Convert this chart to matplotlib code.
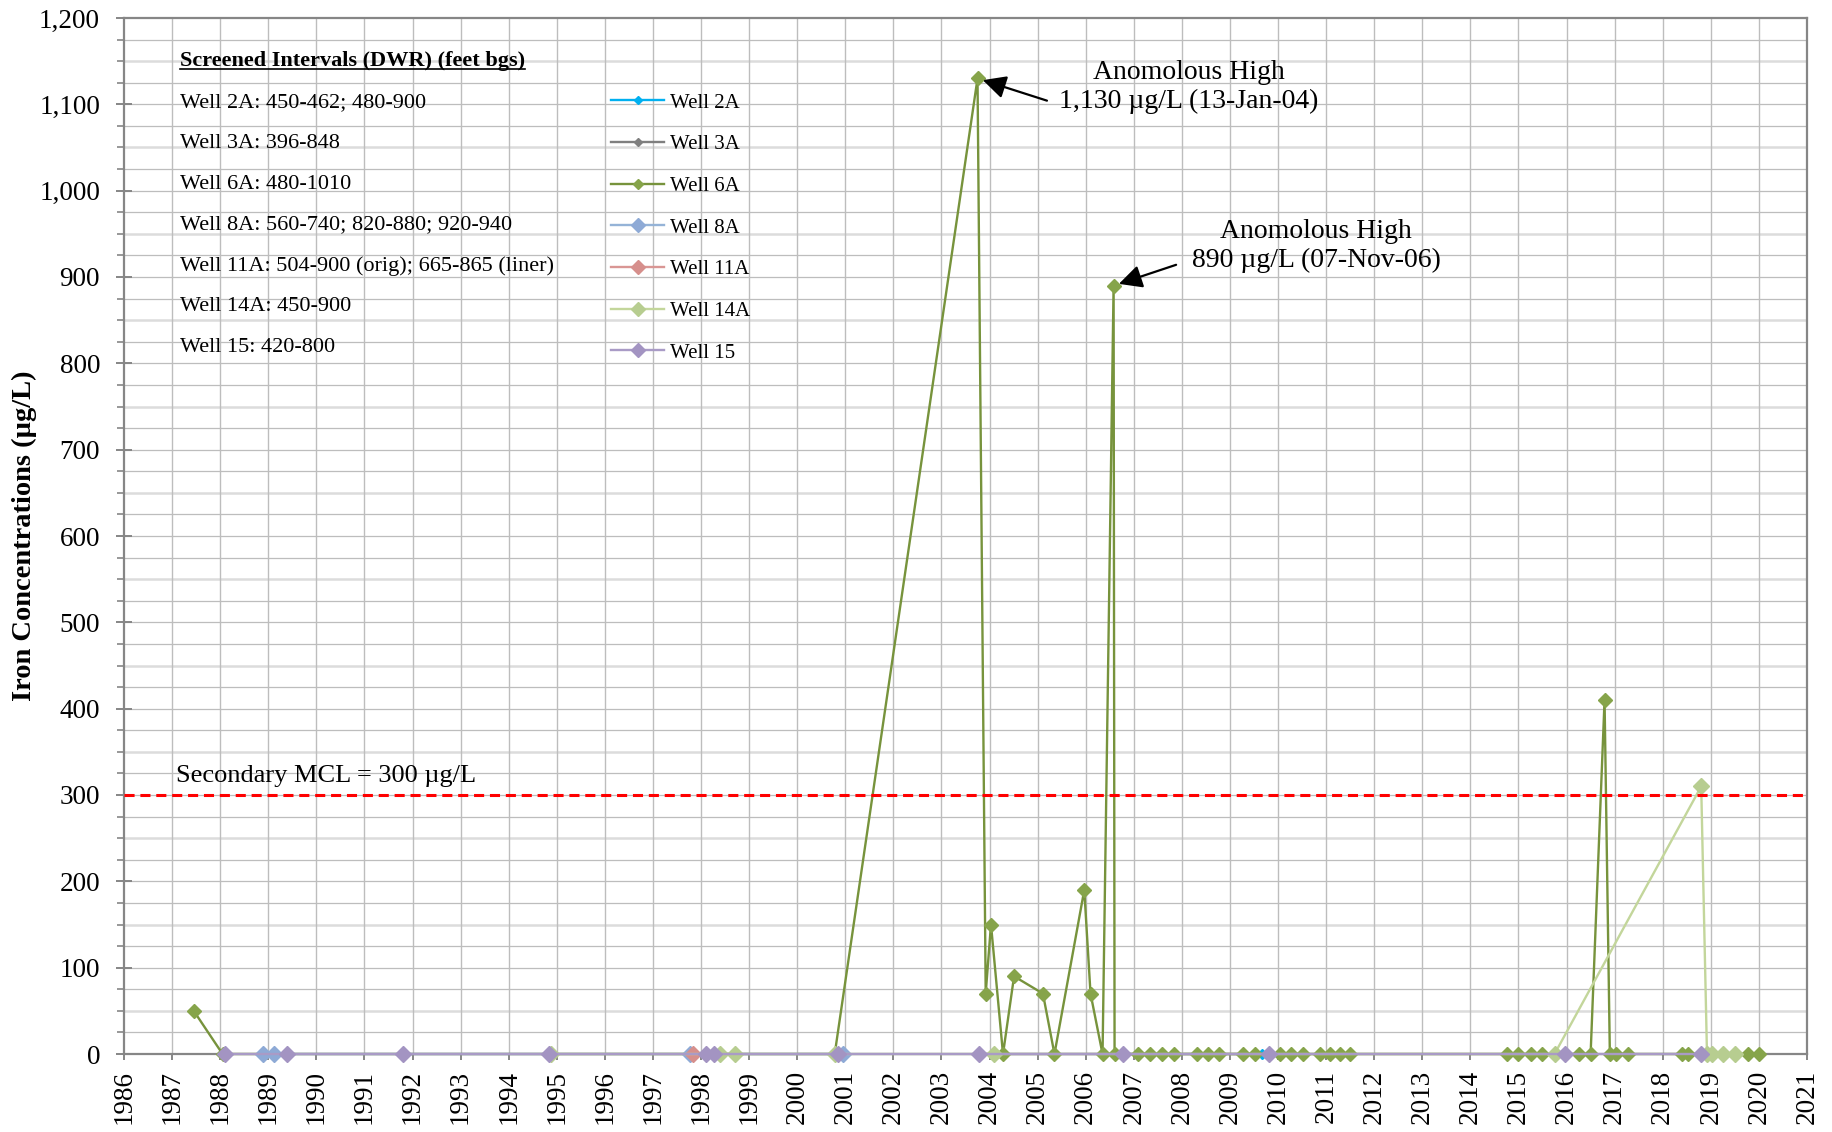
import matplotlib as mpl
mpl.use('Agg')
import matplotlib.pyplot as plt
import matplotlib.ticker as ticker
from matplotlib.lines import Line2D
import numpy as np

plt.rcParams['font.family'] = ['Liberation Serif', 'DejaVu Serif']
#
#--- data (decimal year, ug/L)
#
well_2a_x = [2009.66]
well_2a_y = [0]

well_3a_x = [2003.78, 2009.81]
well_3a_y = [0, 0]

well_6a_x = [1987.45, 1988.05, 2000.78, 2003.75, 2003.92, 2004.03, 2004.28, 2004.51,
             2005.11, 2005.35, 2005.97, 2006.10, 2006.35, 2006.58, 2006.60, 2007.08,
             2007.34, 2007.59, 2007.83, 2008.31, 2008.54, 2008.78, 2009.28, 2009.53,
             2010.05, 2010.26, 2010.51, 2010.88, 2011.07, 2011.29, 2011.50, 2014.77,
             2014.98, 2015.25, 2015.48, 2016.25, 2016.50, 2016.79, 2016.90, 2017.02,
             2017.27, 2018.40, 2018.52, 2019.77, 2020.00]
well_6a_y = [50, 0, 0, 1130, 70, 150, 0, 90,
             70, 0, 190, 70, 0, 890, 0, 0,
             0, 0, 0, 0, 0, 0, 0, 0,
             0, 0, 0, 0, 0, 0, 0, 0,
             0, 0, 0, 0, 0, 410, 0, 0,
             0, 0, 0, 0, 0]

well_8a_x = [1988.90, 1989.11, 1997.78, 2000.96]
well_8a_y = [0, 0, 0, 0]

well_11a_x = [1997.84]
well_11a_y = [0]

well_14a_x = [1994.88, 1998.40, 1998.70, 2000.79, 2004.10, 2015.75, 2018.80,
              2018.92, 2019.03, 2019.25, 2019.50]
well_14a_y = [0, 0, 0, 0, 0, 0, 310, 0, 0, 0, 0]

well_15_x = [1988.10, 1989.38, 1991.80, 1994.84, 1998.10, 1998.28, 2000.84,
             2003.78, 2006.77, 2009.81, 2015.97, 2018.80]
well_15_y = [0, 0, 0, 0, 0, 0, 0, 0, 0, 0, 0, 0]

screened = ['Well 2A: 450-462; 480-900',
            'Well 3A: 396-848',
            'Well 6A: 480-1010',
            'Well 8A: 560-740; 820-880; 920-940',
            'Well 11A: 504-900 (orig); 665-865 (liner)',
            'Well 14A: 450-900',
            'Well 15: 420-800']

mcl = 300
year_ticks = list(range(1986, 2022))

W, H = 1833, 1132


def fx(px):
    return px / W


def fy(py):
    return 1.0 - py / H

#--------------------------------------------------------------------------------

fig = plt.figure(figsize=(W / 100, H / 100), dpi=100)
ax = fig.add_axes([fx(124), fy(1054), fx(1807) - fx(124), fy(18) - fy(1054)])
#
#--- grid
#
for yv in np.arange(25, 1200, 25):
    if yv % 100 == 50:
        ax.axhline(yv, color='#dcdcdc', lw=1.8, zorder=0)
    else:
        ax.axhline(yv, color='#bdbdbd', lw=0.9, zorder=0)
for xv in year_ticks[1:-1]:
    ax.axvline(xv, color='#bdbdbd', lw=1.0, zorder=0)
#
#--- series
#
series = [
    ('Well 2A',  well_2a_x,  well_2a_y,  '#00b0f0', '#00b0f0', 5.0),
    ('Well 3A',  well_3a_x,  well_3a_y,  '#7f7f7f', '#7f7f7f', 5.0),
    ('Well 6A',  well_6a_x,  well_6a_y,  '#77933c', '#86a44a', 7.6),
    ('Well 8A',  well_8a_x,  well_8a_y,  '#95b3d7', '#8eaad6', 8.0),
    ('Well 11A', well_11a_x, well_11a_y, '#d99694', '#d68f8c', 8.0),
    ('Well 14A', well_14a_x, well_14a_y, '#c3d69b', '#b7cd90', 8.0),
    ('Well 15',  well_15_x,  well_15_y,  '#a99bc6', '#a394c2', 8.5),
]
for name, xs, ys, lc, mc, ms in series:
    ax.plot(xs, ys, color=lc, lw=1.7, marker='D', ms=ms, mfc=mc, mec=mc,
            label=name, zorder=3, clip_on=False)
#
#--- secondary MCL
#
ax.axhline(mcl, color='#ff0000', lw=2.2, linestyle=(0, (3.3, 1.9)), zorder=4)
ax.text(1987.08, mcl + 15, 'Secondary MCL = 300 \u00b5g/L', fontsize=19,
        va='baseline', ha='left', zorder=5)
#
#--- axes
#
ax.set_xlim(1986, 2021)
ax.set_ylim(0, 1200)
ax.set_xticks(year_ticks)
ax.set_xticklabels([str(y) for y in year_ticks], rotation=90, fontsize=19.5)
ax.yaxis.set_major_locator(ticker.MultipleLocator(100))
ax.yaxis.set_minor_locator(ticker.MultipleLocator(25))
ax.yaxis.set_major_formatter(ticker.FuncFormatter(lambda v, p: '{:,.0f}'.format(v)))
ax.tick_params(axis='y', which='major', direction='inout', length=11.5, width=1.4,
               color='#868686', labelsize=19.5, pad=11.5)
ax.tick_params(axis='y', which='minor', direction='out', length=5, width=1.2,
               color='#868686')
ax.tick_params(axis='x', which='major', direction='out', length=4.5, width=1.4,
               color='#868686', pad=7)
for sp in ax.spines.values():
    sp.set_color('#868686')
    sp.set_linewidth(1.6)

fig.text(fx(24), fy(536), 'Iron Concentrations (\u00b5g/L)', rotation=90,
         fontsize=20.5, fontweight='bold', ha='center', va='center')
#
#--- screened intervals text
#
title = fig.text(fx(180), fy(66), 'Screened Intervals (DWR) (feet bgs)',
                 fontsize=16, fontweight='bold', ha='left', va='baseline')
for i, line in enumerate(screened):
    fig.text(fx(180), fy(66 + 40.9 * (i + 1)), line, fontsize=16,
             ha='left', va='baseline')
#
#--- legend
#
leg = ax.legend(loc='upper left', bbox_to_anchor=(fx(611), fy(93)),
                bbox_transform=fig.transFigure, frameon=False, fontsize=15,
                borderpad=0, borderaxespad=0, handlelength=2.55,
                handletextpad=0.3, labelspacing=1.06)
for h, s in zip(leg.legend_handles, series):
    h.set_markersize(4.5 if s[5] < 6 else (5.0 if s[0] == 'Well 6A' else 7.0))
#
#--- anomalous highs
#
i1 = well_6a_y.index(1130)
i2 = well_6a_y.index(890)
arrow = dict(arrowstyle='-|>,head_length=0.7,head_width=0.35', color='black',
             lw=1.6, shrinkA=0, shrinkB=4, mutation_scale=20)
ax.annotate('', xy=(well_6a_x[i1], well_6a_y[i1]), xytext=(50, -16),
            textcoords='offset points', arrowprops=arrow, zorder=6)
ax.annotate('', xy=(well_6a_x[i2], well_6a_y[i2]), xytext=(45, 15),
            textcoords='offset points', arrowprops=arrow, zorder=6)
fig.text(fx(1189), fy(87), 'Anomolous High\n1,130 \u00b5g/L (13-Jan-04)',
         fontsize=20, ha='center', va='center', linespacing=1.25)
fig.text(fx(1316), fy(246), 'Anomolous High\n890 \u00b5g/L (07-Nov-06)',
         fontsize=20, ha='center', va='center', linespacing=1.25)
#
#--- underline the heading
#
fig.canvas.draw()
bb = title.get_window_extent(fig.canvas.get_renderer())
inv = fig.transFigure.inverted()
(x0, _), (x1, _) = inv.transform([(bb.x0, 0), (bb.x1, 0)])
fig.add_artist(Line2D([x0, x1], [fy(68.5), fy(68.5)], color='black', lw=1.2,
                      transform=fig.transFigure))

fig.savefig('out.png', dpi=100)
plt.close('all')
